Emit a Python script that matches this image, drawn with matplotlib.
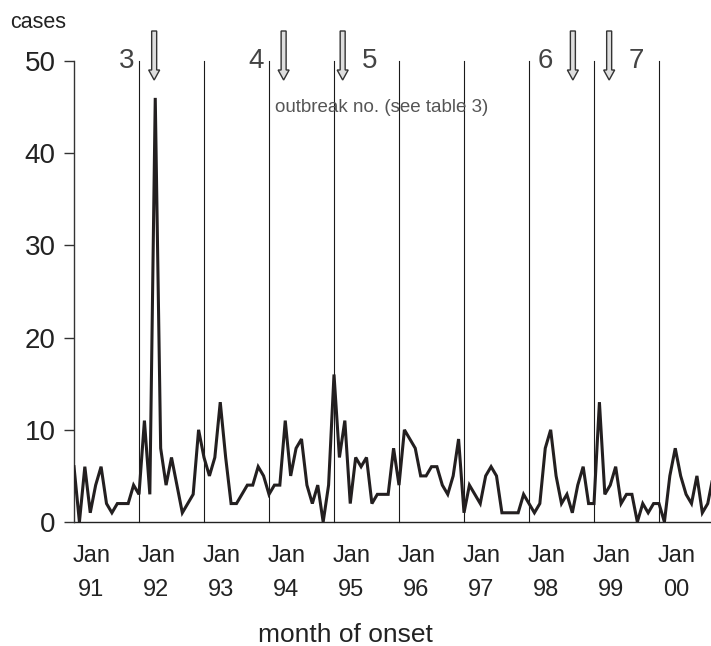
import matplotlib
matplotlib.use("Agg")
import matplotlib.pyplot as plt
from matplotlib.patches import FancyArrow
from matplotlib.transforms import blended_transform_factory

plt.rcParams['font.family'] = ['Liberation Sans', 'DejaVu Sans']

# Monthly cases, Jan 1991 onwards
cases = [6, 0, 6, 1, 4, 6, 2, 1, 2, 2, 2, 4,
         3, 11, 3, 46, 8, 4, 7, 4, 1, 2, 3, 10,
         7, 5, 7, 13, 7, 2, 2, 3, 4, 4, 6, 5,
         3, 4, 4, 11, 5, 8, 9, 4, 2, 4, 0, 4,
         16, 7, 11, 2, 7, 6, 7, 2, 3, 3, 3, 8,
         4, 10, 9, 8, 5, 5, 6, 6, 4, 3, 5, 9,
         1, 4, 3, 2, 5, 6, 5, 1, 1, 1, 1, 3,
         2, 1, 2, 8, 10, 5, 2, 3, 1, 4, 6, 2,
         2, 13, 3, 4, 6, 2, 3, 3, 0, 2, 1, 2,
         2, 0, 5, 8, 5, 3, 2, 5, 1, 2, 5, 3]
months = list(range(len(cases)))

year_labels = ["91", "92", "93", "94", "95", "96", "97", "98", "99", "00"]
y_ticks = [0, 10, 20, 30, 40, 50]

# Outbreaks (month index of arrow) and their numbers
outbreak_months = [14.8, 38.7, 49.6, 92.1, 98.8]
outbreak_numbers = ["3", "4", "5", "6", "7"]
outbreak_label_side = [-1, -1, 1, -1, 1]

W, H = 711, 646
fig = plt.figure(figsize=(W / 100, H / 100), dpi=100)

x_max = 117.6
y_lo, y_hi = -3, 52
px_per_unit = 9.22
ax_bottom_px = 522 + (0 - y_lo) * px_per_unit
ax_top_px = 522 - y_hi * px_per_unit
ax = fig.add_axes([74 / W, 1 - ax_bottom_px / H, (W - 74) / W, (ax_bottom_px - ax_top_px) / H])
ax.set_xlim(0, x_max)
ax.set_ylim(y_lo, y_hi)

for s in ["top", "right", "bottom"]:
    ax.spines[s].set_visible(False)
ax.spines["left"].set_bounds(0, 50)
ax.spines["left"].set_color("#333333")
ax.spines["left"].set_linewidth(1.0)

ax.set_yticks(y_ticks)
ax.set_yticklabels([str(v) for v in y_ticks])
ax.tick_params(axis="y", length=7.2, width=1.0, color="#333333", pad=6.0,
               labelsize=20, labelcolor="#222222")
ax.set_xticks([])

# baseline
ax.axhline(0, color="#222222", lw=1.0, zorder=1)

# year separators
for k in range(1, len(year_labels)):
    ax.plot([12 * k, 12 * k], [0, 50], color="#1a1a1a", lw=0.8, zorder=1)

# data
ax.plot(months, cases, color="#231f20", lw=2.2, solid_joinstyle="miter", zorder=3)

# x labels
tr = blended_transform_factory(ax.transData, fig.transFigure)
for k, yl in enumerate(year_labels):
    xm = 12 * k + 3.2
    ax.text(xm, 1 - 556 / H, "Jan", transform=tr, ha="center", va="center",
            fontsize=17, color="#222222", clip_on=False)
    ax.text(xm, 1 - 590 / H, yl, transform=tr, ha="center", va="center",
            fontsize=17, color="#222222", clip_on=False)

# arrows and outbreak numbers
mpx = (W - 74) / x_max
for xm, num, side in zip(outbreak_months, outbreak_numbers, outbreak_label_side):
    top = (522 - 31) / px_per_unit
    tip = (522 - 80) / px_per_unit
    arr = FancyArrow(xm, top, 0, tip - top, width=5 / mpx, head_width=11 / mpx,
                     head_length=10 / px_per_unit, length_includes_head=True,
                     fc="#dedede", ec="#333333", lw=1.0, clip_on=False, zorder=5)
    ax.add_patch(arr)
    ax.text(xm + side * 5.0, 50, num, ha="center", va="center", fontsize=20,
            color="#444444", clip_on=False)

fig.text(382 / W, 1 - 108 / H, "outbreak no. (see table 3)", ha="center", va="center",
         fontsize=13.5, color="#555555")
fig.text(10 / W, 1 - 22 / H, "cases", ha="left", va="center", fontsize=15.5, color="#222222")
fig.text(345 / W, 1 - 635 / H, "month of onset", ha="center", va="center", fontsize=19,
         color="#222222")

fig.savefig("out.png", dpi=100)
